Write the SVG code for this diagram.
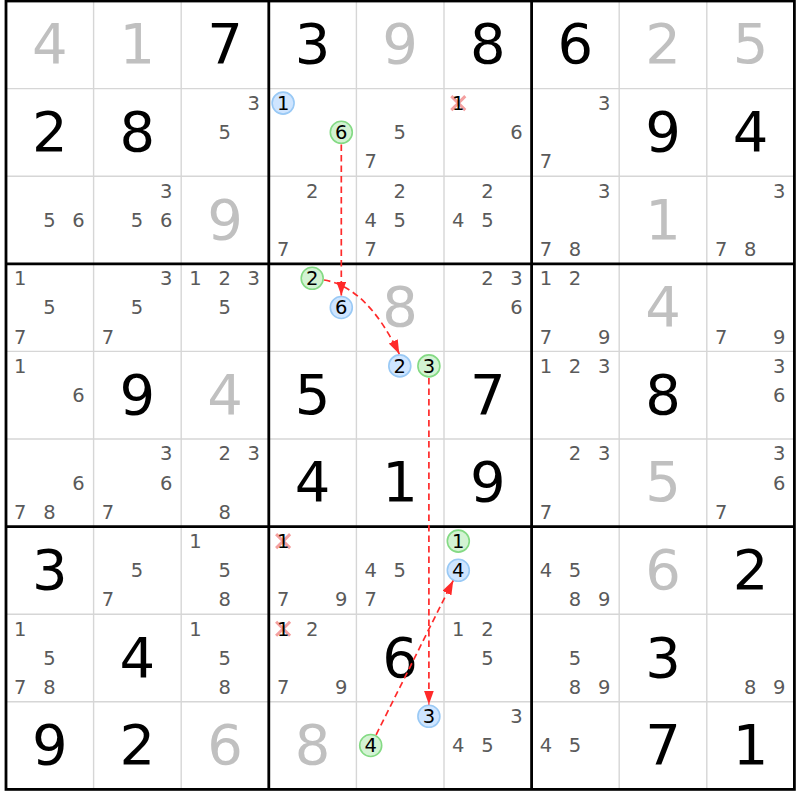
<svg xmlns="http://www.w3.org/2000/svg" width="800" height="800" viewBox="0 0 800 800">
<defs>
<style>
text{font-family:"DejaVu Sans","Verdana",sans-serif;text-anchor:middle}
.g{fill:#c0c0c0;font-size:56px}
.b{fill:#000;font-size:56px}
.c{fill:#5a5a5a;font-size:19.5px}
.k{fill:#000;font-size:19.5px}
.hb{fill:#cfe5ff;stroke:#99c9f5;stroke-width:1.6}
.hg{fill:#d3f3d3;stroke:#84da84;stroke-width:1.6}
.x{stroke:#f4a0a0;stroke-width:3;fill:none}
.thin{stroke:#d6d6d6;stroke-width:1.4}
.thick{stroke:#000;stroke-width:2.8;fill:none}
.link{stroke:#ff2a2a;stroke-width:1.7;stroke-dasharray:6.5 4;fill:none;marker-end:url(#ah)}
</style>
<marker id="ah" markerUnits="userSpaceOnUse" markerWidth="14" markerHeight="10" viewBox="0 0 14 10" refX="14" refY="5" orient="auto">
<path d="M0,0 L14,5 L0,10 z" fill="#ff2a2a"/>
</marker>
</defs>
<rect x="0" y="0" width="800" height="800" fill="#fff"/>
<g id="grid">
<path class="thin" d="M93.6,1V789.4M181.2,1V789.4M356.4,1V789.4M444,1V789.4M619.2,1V789.4M706.8,1V789.4M6,88.6H794.4M6,176.2H794.4M6,351.4H794.4M6,439H794.4M6,614.2H794.4M6,701.8H794.4"/>
<path class="thick" d="M268.8,1V789.4M531.6,1V789.4M6,263.8H794.4M6,526.6H794.4"/>
<rect class="thick" x="6" y="1" width="788.4" height="788.4"/>
</g>
<g id="cells">
<!-- row 1 -->
<g id="r1c1" transform="translate(6,1)"><text class="g" x="43.8" y="62.4">4</text></g>
<g id="r1c2" transform="translate(93.6,1)"><text class="g" x="43.8" y="62.4">1</text></g>
<g id="r1c3" transform="translate(181.2,1)"><text class="b" x="43.8" y="62.4">7</text></g>
<g id="r1c4" transform="translate(268.8,1)"><text class="b" x="43.8" y="62.4">3</text></g>
<g id="r1c5" transform="translate(356.4,1)"><text class="g" x="43.8" y="62.4">9</text></g>
<g id="r1c6" transform="translate(444,1)"><text class="b" x="43.8" y="62.4">8</text></g>
<g id="r1c7" transform="translate(531.6,1)"><text class="b" x="43.8" y="62.4">6</text></g>
<g id="r1c8" transform="translate(619.2,1)"><text class="g" x="43.8" y="62.4">2</text></g>
<g id="r1c9" transform="translate(706.8,1)"><text class="g" x="43.8" y="62.4">5</text></g>
<!-- row 2 -->
<g id="r2c1" transform="translate(6,88.6)"><text class="b" x="43.8" y="62.4">2</text></g>
<g id="r2c2" transform="translate(93.6,88.6)"><text class="b" x="43.8" y="62.4">8</text></g>
<g id="r2c3" transform="translate(181.2,88.6)"><text class="c" x="72.5" y="21.4">3</text><text class="c" x="43.4" y="50.6">5</text></g>
<g id="r2c4" transform="translate(268.8,88.6)"><circle class="hb" cx="14.3" cy="14.5" r="11"/><text class="k" x="14.3" y="21.4">1</text><circle class="hg" cx="72.5" cy="43.7" r="11"/><text class="k" x="72.5" y="50.6">6</text></g>
<g id="r2c5" transform="translate(356.4,88.6)"><text class="c" x="43.4" y="50.6">5</text><text class="c" x="14.3" y="79.8">7</text></g>
<g id="r2c6" transform="translate(444,88.6)"><path class="x" d="M7.3,7.5L21.3,21.5M21.3,7.5L7.3,21.5"/><text class="k" x="14.3" y="21.4">1</text><text class="c" x="72.5" y="50.6">6</text></g>
<g id="r2c7" transform="translate(531.6,88.6)"><text class="c" x="72.5" y="21.4">3</text><text class="c" x="14.3" y="79.8">7</text></g>
<g id="r2c8" transform="translate(619.2,88.6)"><text class="b" x="43.8" y="62.4">9</text></g>
<g id="r2c9" transform="translate(706.8,88.6)"><text class="b" x="43.8" y="62.4">4</text></g>
<!-- row 3 -->
<g id="r3c1" transform="translate(6,176.2)"><text class="c" x="43.4" y="50.6">5</text><text class="c" x="72.5" y="50.6">6</text></g>
<g id="r3c2" transform="translate(93.6,176.2)"><text class="c" x="72.5" y="21.4">3</text><text class="c" x="43.4" y="50.6">5</text><text class="c" x="72.5" y="50.6">6</text></g>
<g id="r3c3" transform="translate(181.2,176.2)"><text class="g" x="43.8" y="62.4">9</text></g>
<g id="r3c4" transform="translate(268.8,176.2)"><text class="c" x="43.4" y="21.4">2</text><text class="c" x="14.3" y="79.8">7</text></g>
<g id="r3c5" transform="translate(356.4,176.2)"><text class="c" x="43.4" y="21.4">2</text><text class="c" x="14.3" y="50.6">4</text><text class="c" x="43.4" y="50.6">5</text><text class="c" x="14.3" y="79.8">7</text></g>
<g id="r3c6" transform="translate(444,176.2)"><text class="c" x="43.4" y="21.4">2</text><text class="c" x="14.3" y="50.6">4</text><text class="c" x="43.4" y="50.6">5</text></g>
<g id="r3c7" transform="translate(531.6,176.2)"><text class="c" x="72.5" y="21.4">3</text><text class="c" x="14.3" y="79.8">7</text><text class="c" x="43.4" y="79.8">8</text></g>
<g id="r3c8" transform="translate(619.2,176.2)"><text class="g" x="43.8" y="62.4">1</text></g>
<g id="r3c9" transform="translate(706.8,176.2)"><text class="c" x="72.5" y="21.4">3</text><text class="c" x="14.3" y="79.8">7</text><text class="c" x="43.4" y="79.8">8</text></g>
<!-- row 4 -->
<g id="r4c1" transform="translate(6,263.8)"><text class="c" x="14.3" y="21.4">1</text><text class="c" x="43.4" y="50.6">5</text><text class="c" x="14.3" y="79.8">7</text></g>
<g id="r4c2" transform="translate(93.6,263.8)"><text class="c" x="72.5" y="21.4">3</text><text class="c" x="43.4" y="50.6">5</text><text class="c" x="14.3" y="79.8">7</text></g>
<g id="r4c3" transform="translate(181.2,263.8)"><text class="c" x="14.3" y="21.4">1</text><text class="c" x="43.4" y="21.4">2</text><text class="c" x="72.5" y="21.4">3</text><text class="c" x="43.4" y="50.6">5</text></g>
<g id="r4c4" transform="translate(268.8,263.8)"><circle class="hg" cx="43.4" cy="14.5" r="11"/><text class="k" x="43.4" y="21.4">2</text><circle class="hb" cx="72.5" cy="43.7" r="11"/><text class="k" x="72.5" y="50.6">6</text></g>
<g id="r4c5" transform="translate(356.4,263.8)"><text class="g" x="43.8" y="62.4">8</text></g>
<g id="r4c6" transform="translate(444,263.8)"><text class="c" x="43.4" y="21.4">2</text><text class="c" x="72.5" y="21.4">3</text><text class="c" x="72.5" y="50.6">6</text></g>
<g id="r4c7" transform="translate(531.6,263.8)"><text class="c" x="14.3" y="21.4">1</text><text class="c" x="43.4" y="21.4">2</text><text class="c" x="14.3" y="79.8">7</text><text class="c" x="72.5" y="79.8">9</text></g>
<g id="r4c8" transform="translate(619.2,263.8)"><text class="g" x="43.8" y="62.4">4</text></g>
<g id="r4c9" transform="translate(706.8,263.8)"><text class="c" x="14.3" y="79.8">7</text><text class="c" x="72.5" y="79.8">9</text></g>
<!-- row 5 -->
<g id="r5c1" transform="translate(6,351.4)"><text class="c" x="14.3" y="21.4">1</text><text class="c" x="72.5" y="50.6">6</text></g>
<g id="r5c2" transform="translate(93.6,351.4)"><text class="b" x="43.8" y="62.4">9</text></g>
<g id="r5c3" transform="translate(181.2,351.4)"><text class="g" x="43.8" y="62.4">4</text></g>
<g id="r5c4" transform="translate(268.8,351.4)"><text class="b" x="43.8" y="62.4">5</text></g>
<g id="r5c5" transform="translate(356.4,351.4)"><circle class="hb" cx="43.4" cy="14.5" r="11"/><text class="k" x="43.4" y="21.4">2</text><circle class="hg" cx="72.5" cy="14.5" r="11"/><text class="k" x="72.5" y="21.4">3</text></g>
<g id="r5c6" transform="translate(444,351.4)"><text class="b" x="43.8" y="62.4">7</text></g>
<g id="r5c7" transform="translate(531.6,351.4)"><text class="c" x="14.3" y="21.4">1</text><text class="c" x="43.4" y="21.4">2</text><text class="c" x="72.5" y="21.4">3</text></g>
<g id="r5c8" transform="translate(619.2,351.4)"><text class="b" x="43.8" y="62.4">8</text></g>
<g id="r5c9" transform="translate(706.8,351.4)"><text class="c" x="72.5" y="21.4">3</text><text class="c" x="72.5" y="50.6">6</text></g>
<!-- row 6 -->
<g id="r6c1" transform="translate(6,439)"><text class="c" x="72.5" y="50.6">6</text><text class="c" x="14.3" y="79.8">7</text><text class="c" x="43.4" y="79.8">8</text></g>
<g id="r6c2" transform="translate(93.6,439)"><text class="c" x="72.5" y="21.4">3</text><text class="c" x="72.5" y="50.6">6</text><text class="c" x="14.3" y="79.8">7</text></g>
<g id="r6c3" transform="translate(181.2,439)"><text class="c" x="43.4" y="21.4">2</text><text class="c" x="72.5" y="21.4">3</text><text class="c" x="43.4" y="79.8">8</text></g>
<g id="r6c4" transform="translate(268.8,439)"><text class="b" x="43.8" y="62.4">4</text></g>
<g id="r6c5" transform="translate(356.4,439)"><text class="b" x="43.8" y="62.4">1</text></g>
<g id="r6c6" transform="translate(444,439)"><text class="b" x="43.8" y="62.4">9</text></g>
<g id="r6c7" transform="translate(531.6,439)"><text class="c" x="43.4" y="21.4">2</text><text class="c" x="72.5" y="21.4">3</text><text class="c" x="14.3" y="79.8">7</text></g>
<g id="r6c8" transform="translate(619.2,439)"><text class="g" x="43.8" y="62.4">5</text></g>
<g id="r6c9" transform="translate(706.8,439)"><text class="c" x="72.5" y="21.4">3</text><text class="c" x="72.5" y="50.6">6</text><text class="c" x="14.3" y="79.8">7</text></g>
<!-- row 7 -->
<g id="r7c1" transform="translate(6,526.6)"><text class="b" x="43.8" y="62.4">3</text></g>
<g id="r7c2" transform="translate(93.6,526.6)"><text class="c" x="43.4" y="50.6">5</text><text class="c" x="14.3" y="79.8">7</text></g>
<g id="r7c3" transform="translate(181.2,526.6)"><text class="c" x="14.3" y="21.4">1</text><text class="c" x="43.4" y="50.6">5</text><text class="c" x="43.4" y="79.8">8</text></g>
<g id="r7c4" transform="translate(268.8,526.6)"><path class="x" d="M7.3,7.5L21.3,21.5M21.3,7.5L7.3,21.5"/><text class="k" x="14.3" y="21.4">1</text><text class="c" x="14.3" y="79.8">7</text><text class="c" x="72.5" y="79.8">9</text></g>
<g id="r7c5" transform="translate(356.4,526.6)"><text class="c" x="14.3" y="50.6">4</text><text class="c" x="43.4" y="50.6">5</text><text class="c" x="14.3" y="79.8">7</text></g>
<g id="r7c6" transform="translate(444,526.6)"><circle class="hg" cx="14.3" cy="14.5" r="11"/><text class="k" x="14.3" y="21.4">1</text><circle class="hb" cx="14.3" cy="43.7" r="11"/><text class="k" x="14.3" y="50.6">4</text></g>
<g id="r7c7" transform="translate(531.6,526.6)"><text class="c" x="14.3" y="50.6">4</text><text class="c" x="43.4" y="50.6">5</text><text class="c" x="43.4" y="79.8">8</text><text class="c" x="72.5" y="79.8">9</text></g>
<g id="r7c8" transform="translate(619.2,526.6)"><text class="g" x="43.8" y="62.4">6</text></g>
<g id="r7c9" transform="translate(706.8,526.6)"><text class="b" x="43.8" y="62.4">2</text></g>
<!-- row 8 -->
<g id="r8c1" transform="translate(6,614.2)"><text class="c" x="14.3" y="21.4">1</text><text class="c" x="43.4" y="50.6">5</text><text class="c" x="14.3" y="79.8">7</text><text class="c" x="43.4" y="79.8">8</text></g>
<g id="r8c2" transform="translate(93.6,614.2)"><text class="b" x="43.8" y="62.4">4</text></g>
<g id="r8c3" transform="translate(181.2,614.2)"><text class="c" x="14.3" y="21.4">1</text><text class="c" x="43.4" y="50.6">5</text><text class="c" x="43.4" y="79.8">8</text></g>
<g id="r8c4" transform="translate(268.8,614.2)"><path class="x" d="M7.3,7.5L21.3,21.5M21.3,7.5L7.3,21.5"/><text class="k" x="14.3" y="21.4">1</text><text class="c" x="43.4" y="21.4">2</text><text class="c" x="14.3" y="79.8">7</text><text class="c" x="72.5" y="79.8">9</text></g>
<g id="r8c5" transform="translate(356.4,614.2)"><text class="b" x="43.8" y="62.4">6</text></g>
<g id="r8c6" transform="translate(444,614.2)"><text class="c" x="14.3" y="21.4">1</text><text class="c" x="43.4" y="21.4">2</text><text class="c" x="43.4" y="50.6">5</text></g>
<g id="r8c7" transform="translate(531.6,614.2)"><text class="c" x="43.4" y="50.6">5</text><text class="c" x="43.4" y="79.8">8</text><text class="c" x="72.5" y="79.8">9</text></g>
<g id="r8c8" transform="translate(619.2,614.2)"><text class="b" x="43.8" y="62.4">3</text></g>
<g id="r8c9" transform="translate(706.8,614.2)"><text class="c" x="43.4" y="79.8">8</text><text class="c" x="72.5" y="79.8">9</text></g>
<!-- row 9 -->
<g id="r9c1" transform="translate(6,701.8)"><text class="b" x="43.8" y="62.4">9</text></g>
<g id="r9c2" transform="translate(93.6,701.8)"><text class="b" x="43.8" y="62.4">2</text></g>
<g id="r9c3" transform="translate(181.2,701.8)"><text class="g" x="43.8" y="62.4">6</text></g>
<g id="r9c4" transform="translate(268.8,701.8)"><text class="g" x="43.8" y="62.4">8</text></g>
<g id="r9c5" transform="translate(356.4,701.8)"><circle class="hb" cx="72.5" cy="14.5" r="11"/><text class="k" x="72.5" y="21.4">3</text><circle class="hg" cx="14.3" cy="43.7" r="11"/><text class="k" x="14.3" y="50.6">4</text></g>
<g id="r9c6" transform="translate(444,701.8)"><text class="c" x="72.5" y="21.4">3</text><text class="c" x="14.3" y="50.6">4</text><text class="c" x="43.4" y="50.6">5</text></g>
<g id="r9c7" transform="translate(531.6,701.8)"><text class="c" x="14.3" y="50.6">4</text><text class="c" x="43.4" y="50.6">5</text></g>
<g id="r9c8" transform="translate(619.2,701.8)"><text class="b" x="43.8" y="62.4">7</text></g>
<g id="r9c9" transform="translate(706.8,701.8)"><text class="b" x="43.8" y="62.4">1</text></g>
</g>
<g id="links">
<path class="link" d="M341.3,144.5V295.5"/>
<path class="link" d="M324,280Q367,287 399.3,354"/>
<path class="link" d="M428.9,378V704.5"/>
<path class="link" d="M376.1,734.8L453.2,580.6"/>
</g>
</svg>
